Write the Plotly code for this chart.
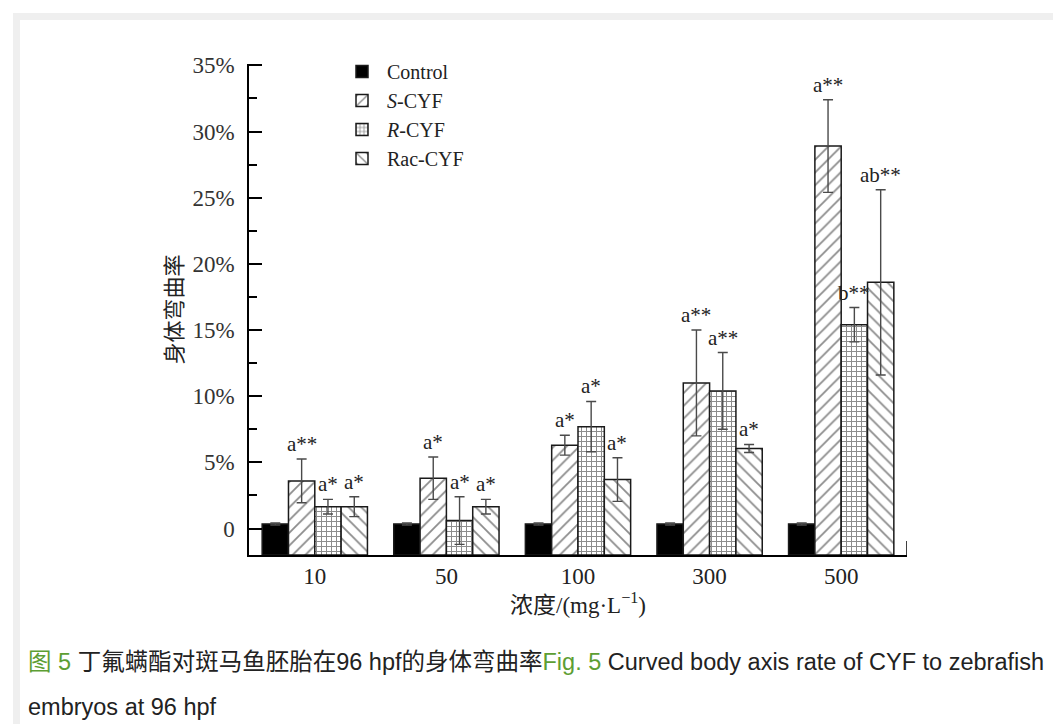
import plotly.graph_objects as go

# ---------------- data ----------------
categories = ["10", "50", "100", "300", "500"]
series_names = ["Control", "<i>S</i>-CYF", "<i>R</i>-CYF", "Rac-CYF"]

control_vals = [0.35, 0.35, 0.35, 0.35, 0.35]
control_err = [0.08, 0.08, 0.08, 0.08, 0.08]

s_vals = [3.6, 3.8, 6.3, 11.0, 28.9]
s_err = [1.65, 1.6, 0.75, 4.0, 3.5]

r_vals = [1.65, 0.6, 7.7, 10.4, 15.4]
r_err = [0.55, 1.8, 1.9, 2.9, 1.3]

rac_vals = [1.65, 1.65, 3.7, 6.05, 18.6]
rac_err = [0.75, 0.55, 1.65, 0.3, 7.0]

s_labels = ["a**", "a*", "a*", "a**", "a**"]
r_labels = ["a*", "a*", "a*", "a**", "b**"]
rac_labels = ["a*", "a*", "a*", "a*", "ab**"]

y_tickvals = [0, 5, 10, 15, 20, 25, 30, 35]
y_ticktext = ["0", "5%", "10%", "15%", "20%", "25%", "30%", "35%"]
y_minor = [2.5, 7.5, 12.5, 17.5, 22.5, 27.5, 32.5]
y_floor = -2.0   # the value axis starts below zero; bars rise from the axis line

y_title = "身体弯曲率"
x_title = "浓度/(mg·L<sup>−1</sup>)"
caption1 = ('<span style="color:#5d9e33">图 5</span> 丁氟螨酯对斑马鱼胚胎在96 hpf的身体弯曲率'
            '<span style="color:#5d9e33">Fig. 5</span> Curved body axis rate of CYF to zebrafish')
caption2 = "embryos at 96 hpf"

# ---------------- layout geometry ----------------
W, H = 1061, 724
ML, MR, MT, MB = 241, 162, 56, 177
PW = W - ML - MR
PH = H - MT - MB


def px(xp):
    return (xp - ML) / PW


def py(yp):
    return (H - MB - yp) / PH


SERIF = "Liberation Serif, Times New Roman, serif"
SERIF_CJK = "Liberation Serif, Noto Sans CJK SC, serif"
SANS_CJK = "Liberation Sans, Arial, Noto Sans CJK SC, sans-serif"
EDGE = "#1a1a1a"
ERRC = "#4a4a4a"

fig = go.Figure()


def add_series(name, vals, errs, shape=None, solid=False):
    marker = dict(line=dict(color=EDGE, width=1.5))
    if solid:
        marker["color"] = "black"
    else:
        marker["color"] = "white"
        size, sol = (9, 0.2) if shape in ("/", "\\") else (5, 0.36)
        marker["pattern"] = dict(shape=shape, fgcolor=EDGE, bgcolor="white",
                                 size=size, solidity=sol, fillmode="overlay")
    fig.add_trace(go.Bar(
        name=name, x=categories,
        y=[v - y_floor for v in vals], base=[y_floor] * len(vals),
        error_y=dict(type="data", array=errs, visible=True, color=ERRC,
                     thickness=1.4, width=5),
        marker=marker,
    ))


add_series(series_names[0], control_vals, control_err, solid=True)
add_series(series_names[1], s_vals, s_err, shape="/")
add_series(series_names[2], r_vals, r_err, shape="+")
add_series(series_names[3], rac_vals, rac_err, shape="\\")

# significance letters above error bars
offsets = [-0.1, 0.1, 0.3]
annotations = []
for off, vals, errs, labs in [(offsets[0], s_vals, s_err, s_labels),
                              (offsets[1], r_vals, r_err, r_labels),
                              (offsets[2], rac_vals, rac_err, rac_labels)]:
    for i in range(len(categories)):
        annotations.append(dict(
            x=i + off, y=vals[i] + errs[i], xref="x", yref="y",
            text=labs[i], showarrow=False, yanchor="bottom", xanchor="center",
            yshift=1, font=dict(family=SERIF, size=21, color="#222")))

# caption
annotations.append(dict(x=px(18), y=py(654), xref="paper", yref="paper",
                        text=caption1, showarrow=False, xanchor="left", yanchor="middle",
                        font=dict(family=SANS_CJK, size=23.5, color="#222")))
annotations.append(dict(x=px(18), y=py(699), xref="paper", yref="paper",
                        text=caption2, showarrow=False, xanchor="left", yanchor="middle",
                        font=dict(family=SANS_CJK, size=23.5, color="#222")))

# outer frame bands
GRAY = "#efefef"
shapes = [
    dict(type="rect", xref="paper", yref="paper", x0=px(5), x1=px(1061), y0=py(12), y1=py(5),
         fillcolor=GRAY, line=dict(width=0)),
    dict(type="rect", xref="paper", yref="paper", x0=px(5), x1=px(12), y0=py(724), y1=py(5),
         fillcolor=GRAY, line=dict(width=0)),
    dict(type="rect", xref="paper", yref="paper", x0=px(5), x1=px(1061), y0=py(724), y1=py(721),
         fillcolor=GRAY, line=dict(width=0)),
    # small end tick at right of x axis
    dict(type="line", xref="x", yref="y", x0=4.5, x1=4.5, y0=y_floor, y1=y_floor + 1.05,
         line=dict(color="black", width=1.5)),
]

fig.update_layout(
    width=W, height=H,
    margin=dict(l=ML, r=MR, t=MT, b=MB),
    paper_bgcolor="white", plot_bgcolor="white",
    barmode="group", bargap=0.2, bargroupgap=0,
    font=dict(family=SERIF, size=23, color="#222"),
    showlegend=True,
    legend=dict(x=px(329), y=py(44), xanchor="left", yanchor="top",
                font=dict(family=SERIF, size=20, color="#222"),
                bgcolor="rgba(0,0,0,0)", tracegroupgap=0, itemwidth=40),
    annotations=annotations,
    shapes=shapes,
)

fig.update_xaxes(
    range=[-0.5, 4.5], showline=True, linecolor="black", linewidth=1.5,
    ticks="", showgrid=False, zeroline=False, ticklabelstandoff=0,
    tickfont=dict(family=SERIF, size=23, color="#222"),
    title=dict(text=x_title, font=dict(family=SERIF_CJK, size=23, color="#222"),
               standoff=4),
)

fig.update_yaxes(
    range=[y_floor, 35.1], showline=True, linecolor="black", linewidth=1.5,
    showgrid=False, zeroline=False,
    tickmode="array", tickvals=y_tickvals, ticktext=y_ticktext,
    ticks="inside", ticklen=13, tickwidth=1.5, tickcolor="black",
    ticklabelstandoff=8,
    minor=dict(tickvals=y_minor, ticks="inside", ticklen=8, tickwidth=1.5, tickcolor="black"),
    tickfont=dict(family=SERIF, size=23, color="#333"),
    title=dict(text=y_title, font=dict(family="Noto Sans CJK SC", size=22, color="#222"),
               standoff=4),
)

fig.write_html("out.html")
